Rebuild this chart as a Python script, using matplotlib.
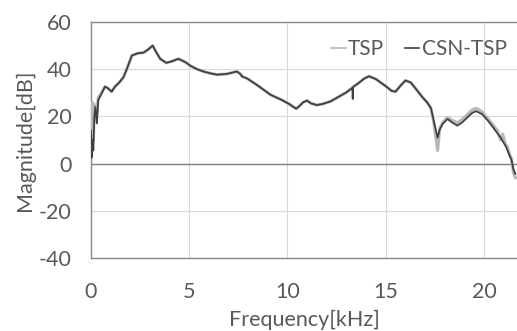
import matplotlib
matplotlib.use("Agg")
import matplotlib.pyplot as plt

plt.rcParams['font.family'] = ['Lato', 'DejaVu Sans']
plt.rcParams['axes.unicode_minus'] = False

freq = [0.0, 0.03, 0.06, 0.09, 0.12, 0.17, 0.22, 0.3, 0.37, 0.5, 0.71, 0.85, 1.05, 1.22,
        1.45, 1.65, 1.82, 2.08, 2.4, 2.67, 2.9, 3.14, 3.3, 3.52, 3.83, 4.1, 4.45, 4.8,
        5.05, 5.4, 5.73, 6.1, 6.41, 6.92, 7.3, 7.43, 7.6, 7.69, 7.94, 8.5, 9.13, 9.7,
        10.1, 10.32, 10.45, 10.58, 10.8, 11.0, 11.2, 11.5, 11.8, 12.2, 12.6, 13.0, 13.3,
        13.32, 13.34, 13.6, 13.9, 14.15, 14.5, 14.8, 15.08, 15.3, 15.5, 15.75, 16.0, 16.27,
        16.55, 16.87, 17.1, 17.3, 17.45, 17.64, 17.75, 17.9, 18.14, 18.4, 18.65, 18.9,
        19.16, 19.4, 19.6, 19.9, 20.2, 20.45, 20.7, 20.85, 20.95, 21.1, 21.2, 21.3, 21.4,
        21.5, 21.6]

csn_tsp = [14, 2.5, 10, 7, 5.5, 20, 24, 17, 27, 29, 32.6, 32, 30.5, 32.6,
           34.5, 36.6, 40, 45.8, 46.8, 47, 48.3, 50, 47.5, 44.4, 42.7, 43.3, 44.4, 43,
           41.5, 40, 39, 38.2, 37.7, 38, 38.8, 39, 38, 36.9, 36.1, 33, 29.2, 27,
           25.2, 23.9, 23.3, 24.2, 26, 26.7, 25.5, 24.8, 25.3, 26.4, 28.3, 30.2, 32.1,
           27.4, 32.5, 34, 36, 37, 35.8, 34, 32.3, 30.8, 30.5, 33, 35.2, 34.4,
           31.5, 28.1, 26, 23.5, 18, 11, 14.5, 16.8, 18.9, 17.3, 16.1, 17.5,
           19.6, 21.5, 22.2, 21, 18.2, 15.5, 12.6, 11, 9.5, 7.5, 5.5, 3.5, 1.5,
           -2.5, -4.3]

tsp = [16, 8, 26, 12, 10, 24, 25, 22, 28, 29.5, 32.6, 32, 30.5, 32.6,
       34.5, 36.6, 40, 45.8, 46.8, 47, 48.3, 50, 47.5, 44.4, 42.7, 43.3, 44.4, 43,
       41.5, 40, 39, 38.2, 37.7, 38, 38.8, 39, 38, 36.9, 36.1, 33, 29.2, 27,
       25.2, 23.9, 23.3, 24.2, 26, 26.7, 25.5, 24.8, 25.3, 26.4, 28.3, 30.2, 32.1,
       32.1, 32.5, 34, 36, 37, 35.8, 34, 32.3, 30.8, 30.5, 33, 35.2, 34.4,
       31.5, 28.1, 26, 23.5, 17, 5.5, 15, 17.5, 19.5, 18.3, 17.3, 18.8,
       20.8, 22.8, 23.4, 22, 19, 16.5, 13.8, 10, 12.5, 8, 7, 4, 2,
       -4, -6]

fig = plt.figure(figsize=(5.17, 3.31), dpi=100)
ax = fig.add_axes([91 / 517, 73 / 331, 426 / 517, 236 / 331])

ax.plot(freq, tsp, color='#b8b8b8', linewidth=2.2, label='TSP', zorder=3)
ax.plot(freq, csn_tsp, color='#404040', linewidth=1.3, label='CSN-TSP', zorder=4)
ax.axhline(0, color='#7f7f7f', linewidth=1.0, zorder=2)

ax.set_xlim(0, 21.68)
ax.set_ylim(-40, 60)
ax.set_xticks([0, 5, 10, 15, 20])
ax.set_yticks([-40, -20, 0, 20, 40, 60])
ax.grid(True, color='#d9d9d9', linewidth=0.8)
ax.set_axisbelow(True)

for side in ['left', 'top', 'bottom']:
    ax.spines[side].set_color('#898989')
    ax.spines[side].set_linewidth(1.0)
ax.spines['right'].set_visible(False)

ax.tick_params(axis='both', length=0, labelsize=15.5, colors='#595959')
ax.tick_params(axis='x', pad=17)
ax.tick_params(axis='y', pad=14)

ax.set_xlabel('Frequency[kHz]', fontsize=15.5, color='#595959', labelpad=6)
ax.set_ylabel('Magnitude[dB]', fontsize=15.5, color='#595959', labelpad=3)

leg = ax.legend(loc='upper right', bbox_to_anchor=(1.0, 0.97), ncol=2, frameon=False,
                fontsize=15, handlelength=0.7, handletextpad=0.1, columnspacing=1.0,
                labelcolor='#595959', borderaxespad=0.1)
for line in leg.get_lines():
    line.set_linewidth(1.2)

fig.savefig('out.png', dpi=100)
